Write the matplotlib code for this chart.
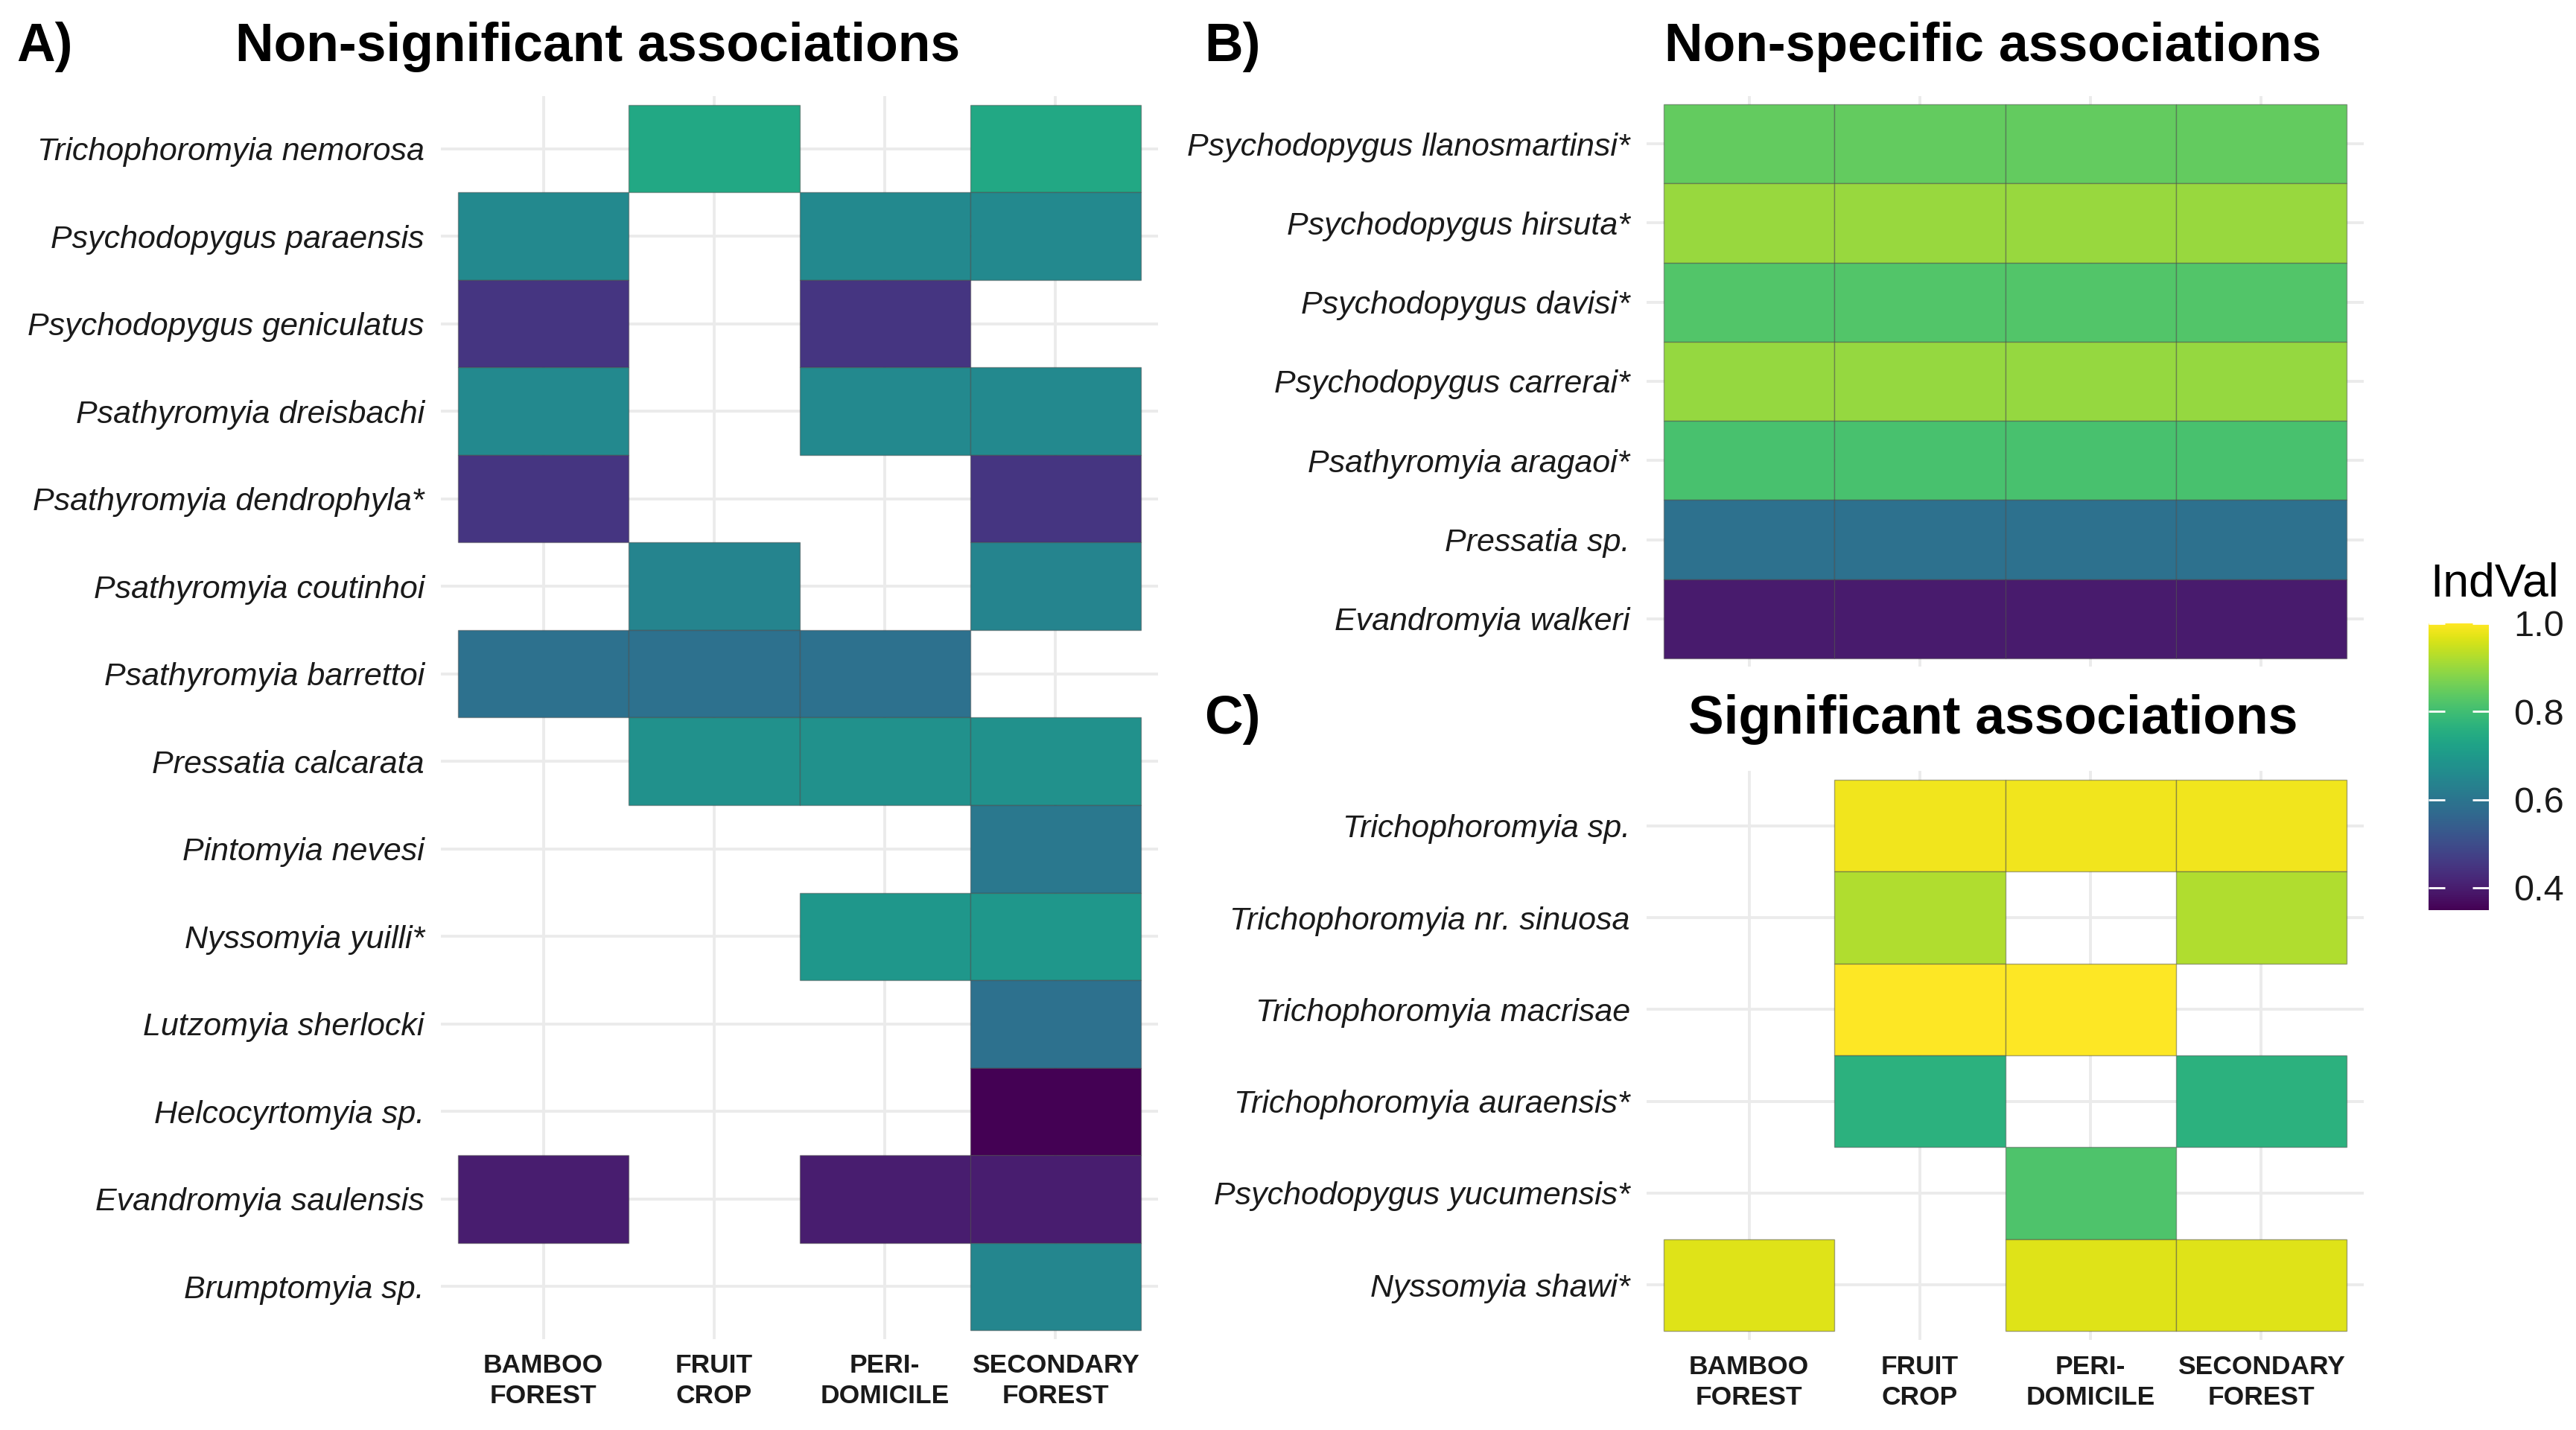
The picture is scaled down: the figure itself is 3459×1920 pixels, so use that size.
import numpy as np
import matplotlib
matplotlib.use("Agg")
import matplotlib.pyplot as plt
from matplotlib.colors import Normalize
from matplotlib.cm import ScalarMappable

plt.rcParams['font.family'] = ['Liberation Sans', 'DejaVu Sans']

nan = np.nan
habitats = ["BAMBOO\nFOREST", "FRUIT\nCROP", "PERI-\nDOMICILE", "SECONDARY\nFOREST"]

# panel A - listed top to bottom, columns follow habitats
species_a = ["Trichophoromyia nemorosa", "Psychodopygus paraensis", "Psychodopygus geniculatus",
             "Psathyromyia dreisbachi", "Psathyromyia dendrophyla*", "Psathyromyia coutinhoi",
             "Psathyromyia barrettoi", "Pressatia calcarata", "Pintomyia nevesi", "Nyssomyia yuilli*",
             "Lutzomyia sherlocki", "Helcocyrtomyia sp.", "Evandromyia saulensis", "Brumptomyia sp."]
indval_a = [[nan, 0.74, nan, 0.74],
            [0.655, nan, 0.655, 0.655],
            [0.45, nan, 0.45, nan],
            [0.655, nan, 0.655, 0.655],
            [0.45, nan, nan, 0.45],
            [nan, 0.642, nan, 0.642],
            [0.59, 0.59, 0.59, nan],
            [nan, 0.675, 0.675, 0.675],
            [nan, nan, nan, 0.61],
            [nan, nan, 0.694, 0.694],
            [nan, nan, nan, 0.59],
            [nan, nan, nan, 0.349],
            [0.40, nan, 0.40, 0.40],
            [nan, nan, nan, 0.648]]

# panel B
species_b = ["Psychodopygus llanosmartinsi*", "Psychodopygus hirsuta*", "Psychodopygus davisi*",
             "Psychodopygus carrerai*", "Psathyromyia aragaoi*", "Pressatia sp.", "Evandromyia walkeri"]
indval_b = [[0.844] * 4, [0.90] * 4, [0.824] * 4, [0.897] * 4, [0.811] * 4, [0.59] * 4, [0.395] * 4]

# panel C
species_c = ["Trichophoromyia sp.", "Trichophoromyia nr. sinuosa", "Trichophoromyia macrisae",
             "Trichophoromyia auraensis*", "Psychodopygus yucumensis*", "Nyssomyia shawi*"]
indval_c = [[nan, 0.985, 0.985, 0.985],
            [nan, 0.922, nan, 0.922],
            [nan, 1.0, 1.0, nan],
            [nan, 0.766, nan, 0.766],
            [nan, nan, 0.818, nan],
            [0.967, nan, 0.967, 0.967]]

cmap = plt.get_cmap('viridis')
norm = Normalize(vmin=0.349, vmax=1.0)

W, H = 3459, 1920
fig = plt.figure(figsize=(W / 100, H / 100), dpi=100)


def draw_panel(rect, species, vals, show_x):
    ax = fig.add_axes(rect)
    n = len(species)
    xs = np.arange(1, 5)
    for i, row in enumerate(vals):
        y = n - i
        row = np.array(row, dtype=float)
        ok = ~np.isnan(row)
        ax.bar(xs[ok], 1, bottom=y - 0.5, width=1, color=cmap(norm(row[ok])),
               edgecolor=(0.25, 0.25, 0.25, 0.45), linewidth=1.0, zorder=2)
    ax.set_xlim(0.4, 4.6)
    ax.set_ylim(0.4, n + 0.6)
    ax.set_xticks(xs)
    ax.set_yticks(np.arange(n, 0, -1))
    ax.set_yticklabels(species, fontsize=31, style='italic', color='#1a1a1a')
    if show_x:
        ax.set_xticklabels(habitats, fontsize=25.5, fontweight='bold', color='#1a1a1a',
                           linespacing=1.3)
    else:
        ax.set_xticklabels([])
    ax.tick_params(length=0, pad=16)
    ax.tick_params(axis='x', pad=14)
    ax.grid(True, color='#EBEBEB', linewidth=2.8)
    ax.set_axisbelow(True)
    for s in ax.spines.values():
        s.set_visible(False)
    return ax


draw_panel([592 / W, 1 - 1798 / H, 963 / W, 1669 / H], species_a, indval_a, True)
draw_panel([2211 / W, 1 - 894.6 / H, 963 / W, 765.2 / H], species_b, indval_b, False)
draw_panel([2211 / W, 1 - 1799.3 / H, 963 / W, 764.6 / H], species_c, indval_c, True)

# panel titles
fig.text(22 / W, 1 - 82 / H, "A)", fontsize=51.5, fontweight='bold', va='baseline')
fig.text(803 / W, 1 - 82 / H, "Non-significant associations", fontsize=51.5, fontweight='bold',
         ha='center', va='baseline')
fig.text(1617 / W, 1 - 82 / H, "B)", fontsize=51.5, fontweight='bold', va='baseline')
fig.text(2676 / W, 1 - 82 / H, "Non-specific associations", fontsize=51.5, fontweight='bold',
         ha='center', va='baseline')
fig.text(1617 / W, 1 - 985 / H, "C)", fontsize=51.5, fontweight='bold', va='baseline')
fig.text(2676 / W, 1 - 985 / H, "Significant associations", fontsize=51.5, fontweight='bold',
         ha='center', va='baseline')

# colour bar
cax = fig.add_axes([3261 / W, 1 - 1222 / H, 81 / W, 385 / H])
sm = ScalarMappable(norm=norm, cmap=cmap)
cb = fig.colorbar(sm, cax=cax, ticks=[0.4, 0.6, 0.8, 1.0])
cb.outline.set_visible(False)
cb.ax.set_yticklabels(['0.4', '0.6', '0.8', '1.0'])
cax.yaxis.set_ticks_position('both')
cax.tick_params(direction='in', color='white', length=16, width=2, labelsize=35,
                pad=24, labelleft=False, labelcolor='#1a1a1a')
fig.text(3263 / W, 1 - 800 / H, "IndVal", fontsize=45, va='baseline')

fig.savefig("out.png", dpi=100, facecolor='white')
